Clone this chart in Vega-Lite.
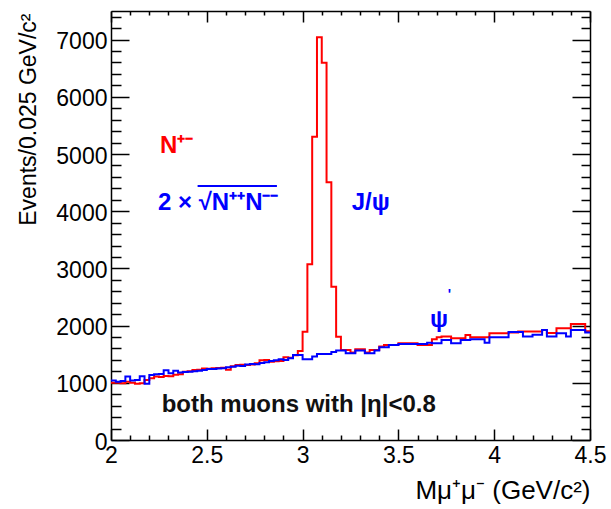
{
  "$schema": "https://vega.github.io/schema/vega-lite/v6.json",
  "width": 479,
  "height": 429,
  "autosize": {"type": "none"},
  "padding": {"left": 111, "top": 11, "right": 21, "bottom": 69},
  "background": "white",
  "config": {"view": {"stroke": null}, "font": "Liberation Sans"},
  "datasets": {
    "red": [
      {"x":2.000,"n":1000},{"x":2.025,"n":1000},{"x":2.050,"n":990},{"x":2.075,"n":1020},{"x":2.100,"n":1000},
      {"x":2.125,"n":985},{"x":2.150,"n":990},{"x":2.175,"n":1050},{"x":2.200,"n":1080},{"x":2.225,"n":1110},
      {"x":2.250,"n":1100},{"x":2.275,"n":1120},{"x":2.300,"n":1115},{"x":2.325,"n":1140},{"x":2.350,"n":1150},
      {"x":2.375,"n":1195},{"x":2.400,"n":1200},{"x":2.425,"n":1225},{"x":2.450,"n":1230},{"x":2.475,"n":1250},
      {"x":2.500,"n":1245},{"x":2.525,"n":1255},{"x":2.550,"n":1260},{"x":2.575,"n":1265},{"x":2.600,"n":1230},
      {"x":2.625,"n":1290},{"x":2.650,"n":1310},{"x":2.675,"n":1315},{"x":2.700,"n":1310},{"x":2.725,"n":1320},
      {"x":2.750,"n":1340},{"x":2.775,"n":1395},{"x":2.800,"n":1400},{"x":2.825,"n":1370},{"x":2.850,"n":1375},
      {"x":2.875,"n":1380},{"x":2.900,"n":1445},{"x":2.925,"n":1440},{"x":2.950,"n":1480},{"x":2.975,"n":1556},
      {"x":3.000,"n":1894},{"x":3.025,"n":3071},{"x":3.050,"n":5303},{"x":3.075,"n":7040},{"x":3.100,"n":6597},
      {"x":3.125,"n":4505},{"x":3.150,"n":2681},{"x":3.175,"n":1806},{"x":3.200,"n":1575},{"x":3.225,"n":1575},
      {"x":3.250,"n":1528},{"x":3.275,"n":1586},{"x":3.300,"n":1586},{"x":3.325,"n":1528},{"x":3.350,"n":1575},
      {"x":3.375,"n":1575},{"x":3.400,"n":1633},{"x":3.425,"n":1662},{"x":3.450,"n":1662},{"x":3.475,"n":1662},
      {"x":3.500,"n":1690},{"x":3.525,"n":1690},{"x":3.550,"n":1690},{"x":3.575,"n":1690},{"x":3.600,"n":1662},
      {"x":3.625,"n":1662},{"x":3.650,"n":1662},{"x":3.675,"n":1762},{"x":3.700,"n":1797},{"x":3.725,"n":1808},
      {"x":3.750,"n":1808},{"x":3.775,"n":1779},{"x":3.800,"n":1779},{"x":3.825,"n":1779},{"x":3.850,"n":1837},
      {"x":3.875,"n":1797},{"x":3.900,"n":1797},{"x":3.925,"n":1797},{"x":3.950,"n":1797},{"x":3.975,"n":1866},
      {"x":4.000,"n":1866},{"x":4.025,"n":1866},{"x":4.050,"n":1866},{"x":4.075,"n":1880},{"x":4.100,"n":1880},
      {"x":4.125,"n":1895},{"x":4.150,"n":1895},{"x":4.175,"n":1895},{"x":4.200,"n":1895},{"x":4.225,"n":1895},
      {"x":4.250,"n":1925},{"x":4.275,"n":1870},{"x":4.300,"n":1870},{"x":4.325,"n":1954},{"x":4.350,"n":1954},
      {"x":4.375,"n":1954},{"x":4.400,"n":2027},{"x":4.425,"n":2027},{"x":4.450,"n":2027},{"x":4.475,"n":1900},
      {"x":4.500,"n":1900}
    ],
    "blue": [
      {"x":2.000,"n":1040},{"x":2.025,"n":1020},{"x":2.050,"n":1030},{"x":2.075,"n":1110},{"x":2.100,"n":1040},
      {"x":2.125,"n":1050},{"x":2.150,"n":1115},{"x":2.175,"n":985},{"x":2.200,"n":1135},{"x":2.225,"n":1150},
      {"x":2.250,"n":1155},{"x":2.275,"n":1220},{"x":2.300,"n":1165},{"x":2.325,"n":1210},{"x":2.350,"n":1180},
      {"x":2.375,"n":1190},{"x":2.400,"n":1195},{"x":2.425,"n":1200},{"x":2.450,"n":1210},{"x":2.475,"n":1225},
      {"x":2.500,"n":1240},{"x":2.525,"n":1240},{"x":2.550,"n":1250},{"x":2.575,"n":1255},{"x":2.600,"n":1270},
      {"x":2.625,"n":1280},{"x":2.650,"n":1300},{"x":2.675,"n":1295},{"x":2.700,"n":1320},{"x":2.725,"n":1330},
      {"x":2.750,"n":1325},{"x":2.775,"n":1345},{"x":2.800,"n":1360},{"x":2.825,"n":1380},{"x":2.850,"n":1395},
      {"x":2.875,"n":1410},{"x":2.900,"n":1400},{"x":2.925,"n":1430},{"x":2.950,"n":1487},{"x":2.975,"n":1487},
      {"x":3.000,"n":1412},{"x":3.025,"n":1412},{"x":3.050,"n":1458},{"x":3.075,"n":1505},{"x":3.100,"n":1505},
      {"x":3.125,"n":1505},{"x":3.150,"n":1540},{"x":3.175,"n":1563},{"x":3.200,"n":1563},{"x":3.225,"n":1517},
      {"x":3.250,"n":1517},{"x":3.275,"n":1563},{"x":3.300,"n":1563},{"x":3.325,"n":1517},{"x":3.350,"n":1517},
      {"x":3.375,"n":1563},{"x":3.400,"n":1622},{"x":3.425,"n":1622},{"x":3.450,"n":1662},{"x":3.475,"n":1662},
      {"x":3.500,"n":1680},{"x":3.525,"n":1680},{"x":3.550,"n":1680},{"x":3.575,"n":1680},{"x":3.600,"n":1680},
      {"x":3.625,"n":1680},{"x":3.650,"n":1700},{"x":3.675,"n":1690},{"x":3.700,"n":1690},{"x":3.725,"n":1750},
      {"x":3.750,"n":1750},{"x":3.775,"n":1692},{"x":3.800,"n":1692},{"x":3.825,"n":1750},{"x":3.850,"n":1750},
      {"x":3.875,"n":1762},{"x":3.900,"n":1762},{"x":3.925,"n":1762},{"x":3.950,"n":1700},{"x":3.975,"n":1797},
      {"x":4.000,"n":1797},{"x":4.025,"n":1797},{"x":4.050,"n":1797},{"x":4.075,"n":1889},{"x":4.100,"n":1889},
      {"x":4.125,"n":1889},{"x":4.150,"n":1810},{"x":4.175,"n":1810},{"x":4.200,"n":1840},{"x":4.225,"n":1840},
      {"x":4.250,"n":1925},{"x":4.275,"n":1810},{"x":4.300,"n":1810},{"x":4.325,"n":1866},{"x":4.350,"n":1866},
      {"x":4.375,"n":1810},{"x":4.400,"n":1925},{"x":4.425,"n":1925},{"x":4.450,"n":1925},{"x":4.475,"n":1880},
      {"x":4.500,"n":1880}
    ],
    "one": [{}]
  },
  "resolve": {"axis": {"x": "independent", "y": "independent"}},
  "layer": [
    {
      "data": {"name": "red"},
      "mark": {"type": "line", "interpolate": "step-after", "color": "#ff0000", "strokeWidth": 2},
      "encoding": {
        "x": {
          "field": "x", "type": "quantitative",
          "scale": {"domain": [2, 4.5], "nice": false, "zero": false},
          "axis": {
            "orient": "bottom",
            "values": [2,2.1,2.2,2.3,2.4,2.5,2.6,2.7,2.8,2.9,3,3.1,3.2,3.3,3.4,3.5,3.6,3.7,3.8,3.9,4,4.1,4.2,4.3,4.4,4.5],
            "labelExpr": "abs(datum.value*2-round(datum.value*2))<0.001 ? toString(round(datum.value*10)/10) : ''",
            "tickSize": {"condition": {"test": "abs(datum.value*2-round(datum.value*2))<0.001", "value": -11}, "value": -5},
            "tickColor": "black", "tickWidth": 1.5,
            "domainColor": "black", "domainWidth": 1.5,
            "grid": false,
            "labelFont": "Liberation Sans", "labelFontSize": 23, "labelColor": "black",
            "labelPadding": 15, "labelFlush": false, "labelOverlap": false,
            "title": "Mμ⁺μ⁻ (GeV/c²)",
            "titleFont": "Liberation Sans", "titleFontSize": 26, "titleFontWeight": "normal", "titleColor": "black",
            "titleX": 479, "titleY": 58, "titleAlign": "right", "titleBaseline": "alphabetic", "titleAnchor": "end"
          }
        },
        "y": {
          "field": "n", "type": "quantitative",
          "scale": {"domain": [0, 7500], "nice": false, "zero": false},
          "axis": {
            "orient": "left",
            "values": [0,200,400,600,800,1000,1200,1400,1600,1800,2000,2200,2400,2600,2800,3000,3200,3400,3600,3800,4000,4200,4400,4600,4800,5000,5200,5400,5600,5800,6000,6200,6400,6600,6800,7000,7200,7400],
            "labelExpr": "datum.value % 1000 === 0 ? toString(datum.value) : ''",
            "tickSize": {"condition": {"test": "datum.value % 1000 === 0", "value": -18}, "value": -10},
            "tickColor": "black", "tickWidth": 1.5,
            "domainColor": "black", "domainWidth": 1.5,
            "grid": false,
            "labelFont": "Liberation Sans", "labelFontSize": 23, "labelColor": "black",
            "labelPadding": 22, "labelOffset": 2, "labelOverlap": false, "labelFlush": false,
            "title": "Events/0.025 GeV/c²",
            "titleFont": "Liberation Sans", "titleFontSize": 23, "titleFontWeight": "normal", "titleColor": "black",
            "titleX": -76, "titleY": 2, "titleAngle": -90, "titleAlign": "right", "titleBaseline": "alphabetic", "titleAnchor": "end"
          }
        }
      }
    },
    {
      "data": {"name": "blue"},
      "mark": {"type": "line", "interpolate": "step-after", "color": "#0000ff", "strokeWidth": 2},
      "encoding": {
        "x": {
          "field": "x", "type": "quantitative",
          "scale": {"domain": [2, 4.5], "nice": false, "zero": false},
          "axis": {
            "orient": "top",
            "values": [2,2.1,2.2,2.3,2.4,2.5,2.6,2.7,2.8,2.9,3,3.1,3.2,3.3,3.4,3.5,3.6,3.7,3.8,3.9,4,4.1,4.2,4.3,4.4,4.5],
            "labels": false, "title": null, "grid": false,
            "tickSize": {"condition": {"test": "abs(datum.value*2-round(datum.value*2))<0.001", "value": -11}, "value": -4},
            "tickColor": "black", "tickWidth": 1.5,
            "domainColor": "black", "domainWidth": 1.5
          }
        },
        "y": {
          "field": "n", "type": "quantitative",
          "scale": {"domain": [0, 7500], "nice": false, "zero": false},
          "axis": {
            "orient": "right",
            "values": [0,200,400,600,800,1000,1200,1400,1600,1800,2000,2200,2400,2600,2800,3000,3200,3400,3600,3800,4000,4200,4400,4600,4800,5000,5200,5400,5600,5800,6000,6200,6400,6600,6800,7000,7200,7400],
            "labels": false, "title": null, "grid": false,
            "tickSize": {"condition": {"test": "datum.value % 1000 === 0", "value": -18}, "value": -9},
            "tickColor": "black", "tickWidth": 1.5,
            "domainColor": "black", "domainWidth": 1.5
          }
        }
      }
    },
    {
      "data": {"name": "one"},
      "mark": {"type": "text", "align": "left", "baseline": "alphabetic", "font": "Liberation Sans", "fontWeight": "bold", "fontSize": 24, "color": "#ff0000"},
      "encoding": {
        "x": {"datum": 2.256, "type": "quantitative", "scale": {"domain": [2, 4.5], "nice": false, "zero": false}, "axis": null},
        "y": {"datum": 5017, "type": "quantitative", "scale": {"domain": [0, 7500], "nice": false, "zero": false}, "axis": null},
        "text": {"value": "N⁺⁻"}
      }
    },
    {
      "data": {"name": "one"},
      "mark": {"type": "text", "align": "left", "baseline": "alphabetic", "font": "Liberation Sans", "fontWeight": "bold", "fontSize": 24, "color": "#0000ff"},
      "encoding": {
        "x": {"datum": 2.245, "type": "quantitative", "scale": {"domain": [2, 4.5], "nice": false, "zero": false}, "axis": null},
        "y": {"datum": 4025, "type": "quantitative", "scale": {"domain": [0, 7500], "nice": false, "zero": false}, "axis": null},
        "text": {"value": "2 × √N⁺⁺N⁻⁻"}
      }
    },
    {
      "data": {"name": "one"},
      "mark": {"type": "rule", "color": "#0000ff", "strokeWidth": 2},
      "encoding": {
        "x": {"datum": 2.452, "type": "quantitative", "scale": {"domain": [2, 4.5], "nice": false, "zero": false}, "axis": null},
        "x2": {"datum": 2.866},
        "y": {"datum": 4440, "type": "quantitative", "scale": {"domain": [0, 7500], "nice": false, "zero": false}, "axis": null}
      }
    },
    {
      "data": {"name": "one"},
      "mark": {"type": "text", "align": "left", "baseline": "alphabetic", "font": "Liberation Sans", "fontWeight": "bold", "fontSize": 24, "color": "#0000ff"},
      "encoding": {
        "x": {"datum": 3.256, "type": "quantitative", "scale": {"domain": [2, 4.5], "nice": false, "zero": false}, "axis": null},
        "y": {"datum": 4025, "type": "quantitative", "scale": {"domain": [0, 7500], "nice": false, "zero": false}, "axis": null},
        "text": {"value": "J/ψ"}
      }
    },
    {
      "data": {"name": "one"},
      "mark": {"type": "text", "align": "left", "baseline": "alphabetic", "font": "Liberation Sans", "fontWeight": "bold", "fontSize": 24, "color": "#0000ff"},
      "encoding": {
        "x": {"datum": 3.665, "type": "quantitative", "scale": {"domain": [2, 4.5], "nice": false, "zero": false}, "axis": null},
        "y": {"datum": 1978, "type": "quantitative", "scale": {"domain": [0, 7500], "nice": false, "zero": false}, "axis": null},
        "text": {"value": "ψ"}
      }
    },
    {
      "data": {"name": "one"},
      "mark": {"type": "text", "align": "left", "baseline": "alphabetic", "font": "Liberation Sans", "fontWeight": "bold", "fontSize": 14, "color": "#0000ff"},
      "encoding": {
        "x": {"datum": 3.758, "type": "quantitative", "scale": {"domain": [2, 4.5], "nice": false, "zero": false}, "axis": null},
        "y": {"datum": 2470, "type": "quantitative", "scale": {"domain": [0, 7500], "nice": false, "zero": false}, "axis": null},
        "text": {"value": "'"}
      }
    },
    {
      "data": {"name": "one"},
      "mark": {"type": "text", "align": "left", "baseline": "alphabetic", "font": "Liberation Sans", "fontWeight": "bold", "fontSize": 24, "color": "#111111"},
      "encoding": {
        "x": {"datum": 2.2646, "type": "quantitative", "scale": {"domain": [2, 4.5], "nice": false, "zero": false}, "axis": null},
        "y": {"datum": 495, "type": "quantitative", "scale": {"domain": [0, 7500], "nice": false, "zero": false}, "axis": null},
        "text": {"value": "both muons with |η|<0.8"}
      }
    }
  ]
}
